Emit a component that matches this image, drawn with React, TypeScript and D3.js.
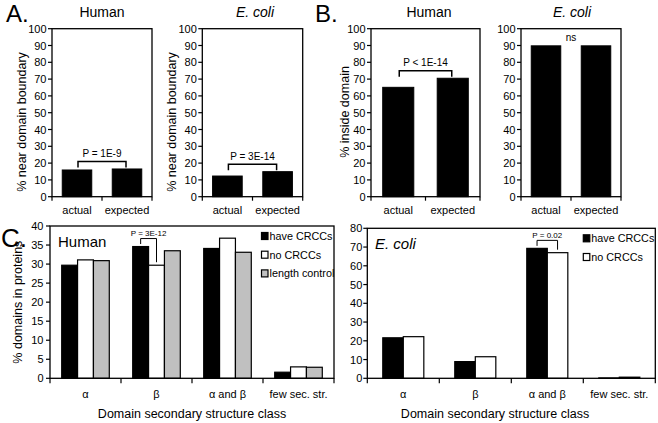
import React from "react";
import * as d3 from "d3";

const topCategories = ["actual", "expected"];
const aHumanValues = [15.9, 16.5];
const aEcoliValues = [12.3, 14.9];
const bHumanValues = [65.1, 70.5];
const bEcoliValues = [89.8, 89.8];
const topTicks = [0, 10, 20, 30, 40, 50, 60, 70, 80, 90, 100];

const cCategories = ["α", "β", "α and β", "few sec. str."];
const cHumanSeries = ["have CRCCs", "no CRCCs", "length control"];
const cHumanHave = [29.7, 34.6, 34.1, 1.6];
const cHumanNo = [31.1, 29.7, 36.8, 3.0];
const cHumanLength = [30.9, 33.5, 33.1, 2.9];
const cHumanTicks = [0, 5, 10, 15, 20, 25, 30, 35, 40];
const cEcoliSeries = ["have CRCCs", "no CRCCs"];
const cEcoliHave = [21.6, 8.9, 69.3, 0.2];
const cEcoliNo = [22.2, 11.5, 67.0, 0.6];
const cEcoliTicks = [0, 10, 20, 30, 40, 50, 60, 70, 80];

const seriesColors = ["#000000", "#ffffff", "#c0c0c0"];
const FONT = "'Liberation Sans', Arial, Helvetica, sans-serif";

type TopProps = {
  x0: number;
  x1: number;
  values: number[];
  title: string;
  italic?: boolean;
  titleX: number;
  yLabel?: string;
  yLabelX?: number;
  yLabelY?: number;
  pLabel: string;
  bracket: boolean;
  pad: number;
};

function TopPanel(p: TopProps) {
  const y = d3.scaleLinear().domain([0, 100]).range([196.7, 28.7]);
  const x = d3
    .scaleBand<string>()
    .domain(topCategories)
    .range([p.x0, p.x1])
    .paddingInner(p.pad)
    .paddingOuter(p.pad / 2);
  const bw = x.bandwidth();
  const [y0, y1] = y.range();
  const maxV = d3.max(p.values) as number;
  const c0 = (x(topCategories[0]) as number) + bw / 2;
  const c1 = (x(topCategories[1]) as number) + bw / 2;
  const yb = y(maxV) - 7.5;
  const mid = (p.x0 + p.x1) / 2;
  return (
    <g>
      <text x={p.titleX} y={17} fontSize={14} textAnchor="middle" fontStyle={p.italic ? "italic" : "normal"}>
        {p.title}
      </text>
      {p.values.map((v, i) => (
        <rect
          key={i}
          x={x(topCategories[i])}
          y={y(v)}
          width={bw}
          height={y0 - y(v)}
          fill="#000"
          stroke="#000"
          strokeWidth={1}
        />
      ))}
      <rect x={p.x0} y={y1} width={p.x1 - p.x0} height={y0 - y1} fill="none" stroke="#000" strokeWidth={1.3} />
      {topTicks.map((t) => (
        <g key={t}>
          <line x1={p.x0 - 4} x2={p.x0} y1={y(t)} y2={y(t)} stroke="#000" strokeWidth={1.2} />
          <text x={p.x0 - 5.5} y={y(t) + 4} fontSize={11} textAnchor="end">
            {t}
          </text>
        </g>
      ))}
      {[p.x0, mid, p.x1].map((tx, i) => (
        <line key={i} x1={tx} x2={tx} y1={y0} y2={y0 + 4} stroke="#000" strokeWidth={1.2} />
      ))}
      {topCategories.map((c) => (
        <text key={c} x={(x(c) as number) + bw / 2} y={214} fontSize={11} textAnchor="middle">
          {c}
        </text>
      ))}
      {p.yLabel && (
        <text
          transform={`translate(${p.yLabelX},${p.yLabelY}) rotate(-90)`}
          fontSize={12.5}
          textAnchor="middle"
        >
          {p.yLabel}
        </text>
      )}
      {p.bracket ? (
        <g>
          <path
            d={`M${c0 + 1},${yb + 6}V${yb}H${c1 - 1}V${yb + 6}`}
            fill="none"
            stroke="#000"
            strokeWidth={1.5}
          />
          <text x={(c0 + c1) / 2} y={yb - 4.5} fontSize={10} textAnchor="middle">
            {p.pLabel}
          </text>
        </g>
      ) : (
        <text x={(c0 + c1) / 2} y={y(maxV) - 5} fontSize={10} textAnchor="middle">
          {p.pLabel}
        </text>
      )}
    </g>
  );
}

type CProps = {
  x0: number;
  x1: number;
  yTop: number;
  yMax: number;
  ticks: number[];
  series: string[];
  data: number[][];
  pad: number;
  title: string;
  italic?: boolean;
  titleX: number;
  yLabel?: string;
  legendX: number;
  xTitleX: number;
  bracketCat: number;
  pLabel: string;
  tickLabelGap: number;
};

function CPanel(p: CProps) {
  const y = d3.scaleLinear().domain([0, p.yMax]).range([378.3, p.yTop]);
  const x = d3
    .scaleBand<string>()
    .domain(cCategories)
    .range([p.x0, p.x1])
    .paddingInner(p.pad)
    .paddingOuter(p.pad / 2);
  const xs = d3.scaleBand<string>().domain(p.series).range([0, x.bandwidth()]);
  const bw = xs.bandwidth();
  const [y0, y1] = y.range();
  const step = x.step();
  const bc = cCategories[p.bracketCat];
  const bx0 = (x(bc) as number) + (xs(p.series[0]) as number) + bw / 2;
  const bx1 = (x(bc) as number) + (xs(p.series[1]) as number) + bw / 2;
  const v0 = p.data[0][p.bracketCat];
  const v1 = p.data[1][p.bracketCat];
  const yb = y(Math.max(v0, v1)) - 8;
  return (
    <g>
      {p.series.map((s, si) =>
        cCategories.map((c, ci) => (
          <rect
            key={s + c}
            x={(x(c) as number) + (xs(s) as number)}
            y={y(p.data[si][ci])}
            width={bw}
            height={y0 - y(p.data[si][ci])}
            fill={seriesColors[si]}
            stroke="#000"
            strokeWidth={1.2}
          />
        ))
      )}
      <rect x={p.x0} y={y1} width={p.x1 - p.x0} height={y0 - y1} fill="none" stroke="#000" strokeWidth={1.3} />
      {p.ticks.map((t) => (
        <g key={t}>
          <line x1={p.x0 - 4} x2={p.x0} y1={y(t)} y2={y(t)} stroke="#000" strokeWidth={1.2} />
          <text x={p.x0 - p.tickLabelGap} y={y(t) + 4} fontSize={11} textAnchor="end">
            {t}
          </text>
        </g>
      ))}
      {d3.range(cCategories.length + 1).map((i) => (
        <line
          key={i}
          x1={p.x0 + i * step}
          x2={p.x0 + i * step}
          y1={y0}
          y2={y0 + 5}
          stroke="#000"
          strokeWidth={1.2}
        />
      ))}
      {cCategories.map((c) => (
        <text key={c} x={(x(c) as number) + x.bandwidth() / 2} y={398} fontSize={11} textAnchor="middle">
          {c}
        </text>
      ))}
      <text x={p.xTitleX} y={417.5} fontSize={12.5} textAnchor="middle">
        Domain secondary structure class
      </text>
      {p.yLabel && (
        <text transform={`translate(21.7,${(y0 + y1) / 2}) rotate(-90)`} fontSize={12.5} textAnchor="middle">
          {p.yLabel}
        </text>
      )}
      <text x={p.titleX} y={y1 + 20.5} fontSize={15} fontStyle={p.italic ? "italic" : "normal"}>
        {p.title}
      </text>
      {p.series.map((s, si) => (
        <g key={s} transform={`translate(${p.legendX},${y1 + 10 + si * 18.7})`}>
          <rect x={0} y={-3.5} width={6.5} height={7} fill={seriesColors[si]} stroke="#000" strokeWidth={1.2} />
          <text x={8} y={4} fontSize={10.8}>
            {s}
          </text>
        </g>
      ))}
      <path
        d={`M${bx0},${y(v0) - 2.5}V${yb}H${bx1}V${y(v1) - 3}`}
        fill="none"
        stroke="#000"
        strokeWidth={1}
      />
      <text x={(bx0 + bx1) / 2} y={yb - 2.5} fontSize={8} textAnchor="middle">
        {p.pLabel}
      </text>
    </g>
  );
}

export default function App() {
  return (
    <svg
      width={658}
      height={423}
      style={{ position: "absolute", left: 0, top: 0, background: "#fff" }}
      fontFamily={FONT}
    >
      <rect x={0} y={0} width={658} height={423} fill="#fff" />
      <text x={6} y={22} fontSize={24}>
        A.
      </text>
      <text x={315} y={22} fontSize={24}>
        B.
      </text>
      <text x={1} y={247} fontSize={26}>
        C.
      </text>
      <TopPanel
        x0={52}
        x1={152}
        values={aHumanValues}
        title="Human"
        titleX={102}
        yLabel="% near domain boundary"
        yLabelX={26}
        yLabelY={122}
        pLabel="P = 1E-9"
        bracket={true}
        pad={0.41}
      />
      <TopPanel
        x0={202.3}
        x1={302.7}
        values={aEcoliValues}
        title="E. coli"
        italic
        titleX={255}
        yLabel="% near domain boundary"
        yLabelX={176}
        yLabelY={122}
        pLabel="P = 3E-14"
        bracket={true}
        pad={0.41}
      />
      <TopPanel
        x0={371}
        x1={480}
        values={bHumanValues}
        title="Human"
        titleX={429}
        yLabel="% inside domain"
        yLabelX={349}
        yLabelY={112}
        pLabel="P < 1E-14"
        bracket={true}
        pad={0.43}
      />
      <TopPanel
        x0={521}
        x1={621}
        values={bEcoliValues}
        title="E. coli"
        italic
        titleX={572}
        pLabel="ns"
        bracket={false}
        pad={0.41}
      />
      <CPanel
        x0={50}
        x1={334}
        yTop={226}
        yMax={40}
        ticks={cHumanTicks}
        series={cHumanSeries}
        data={[cHumanHave, cHumanNo, cHumanLength]}
        pad={0.33}
        title="Human"
        titleX={58}
        yLabel="% domains in proteins"
        legendX={261.5}
        xTitleX={192}
        bracketCat={1}
        pLabel="P = 3E-12"
        tickLabelGap={6.5}
      />
      <CPanel
        x0={367.3}
        x1={655.3}
        yTop={228.3}
        yMax={80}
        ticks={cEcoliTicks}
        series={cEcoliSeries}
        data={[cEcoliHave, cEcoliNo]}
        pad={0.43}
        title="E. coli"
        italic
        titleX={375}
        legendX={583.3}
        xTitleX={495}
        bracketCat={2}
        pLabel="P = 0.02"
        tickLabelGap={5}
      />
    </svg>
  );
}
